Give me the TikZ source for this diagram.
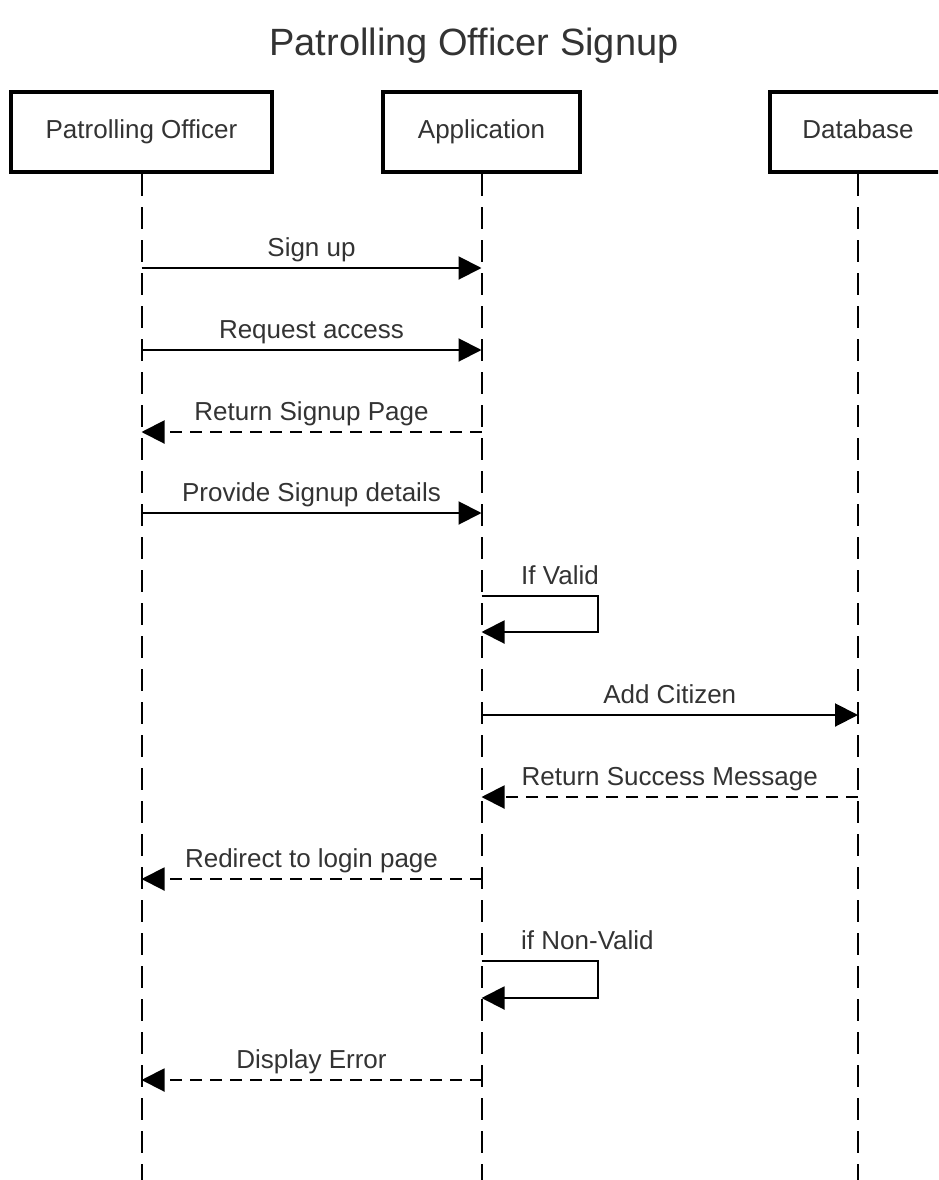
\documentclass[tikz,border=0pt]{standalone}
\usepackage{fontspec}
\setmainfont{Liberation Sans}
\usetikzlibrary{arrows.meta}
\definecolor{txt}{HTML}{333333}
\begin{document}
\begin{tikzpicture}[x=1pt,y=-1pt,
  actor/.style={draw=black,line width=4pt,minimum width=#1,minimum height=80pt,inner sep=0pt,
    font=\fontsize{26}{30}\selectfont,text=txt,text height=19pt,text depth=5pt},
  lifeline/.style={line width=2pt,dash pattern=on 22pt off 11pt},
  msg/.style={line width=2pt,-{Triangle[length=23pt,width=23pt]}},
  ret/.style={msg,dash pattern=on 12pt off 8pt},
  lbl/.style={font=\fontsize{26}{30}\selectfont,text=txt,anchor=base,inner sep=0pt,yshift=12pt},
  loopl/.style={font=\fontsize{26}{30}\selectfont,text=txt,anchor=base west,inner sep=0pt}
]
\useasboundingbox (0,0) rectangle (938,1180);
\clip (0,0) rectangle (938,1180);

\node[font=\fontsize{38}{44}\selectfont,text=txt] (title) at (474,46) {Patrolling Officer Signup};

\node[actor=261pt] (po) at (141.5,132) {Patrolling Officer};
\node[actor=197pt] (app) at (481.5,132) {Application};
\node[actor=176pt] (db) at (858,132) {Database};

\coordinate (poEnd) at (141.5,1185);
\coordinate (appEnd) at (481.5,1185);
\coordinate (dbEnd) at (858,1185);
\draw[lifeline] (po.south) -- (poEnd);
\draw[lifeline] (app.south) -- (appEnd);
\draw[lifeline] (db.south) -- (dbEnd);

% message anchor points
\coordinate (po1) at (141.5,268);  \coordinate (app1) at (481.5,268);
\coordinate (po2) at (141.5,350);  \coordinate (app2) at (481.5,350);
\coordinate (po3) at (141.5,432);  \coordinate (app3) at (481.5,432);
\coordinate (po4) at (141.5,513);  \coordinate (app4) at (481.5,513);
\coordinate (app5a) at (481.5,596); \coordinate (c5) at (598,614); \coordinate (app5b) at (481.5,632);
\coordinate (app6) at (481.5,715); \coordinate (db6) at (858,715);
\coordinate (app7) at (481.5,797); \coordinate (db7) at (858,797);
\coordinate (po8) at (141.5,879);  \coordinate (app8) at (481.5,879);
\coordinate (app9a) at (481.5,961); \coordinate (c9) at (598,979); \coordinate (app9b) at (481.5,998);
\coordinate (po10) at (141.5,1080); \coordinate (app10) at (481.5,1080);

\draw[msg] (po1) -- node[lbl] {Sign up} (app1);
\draw[msg] (po2) -- node[lbl] {Request access} (app2);
\draw[ret] (app3) -- node[lbl] {Return Signup Page} (po3);
\draw[msg] (po4) -- node[lbl] {Provide Signup details} (app4);
\draw[msg] (app5a) -| (c5) |- (app5b);
\node[loopl] (l5) at (521,584) {If Valid};
\draw[msg] (app6) -- node[lbl] {Add Citizen} (db6);
\draw[ret] (db7) -- node[lbl] {Return Success Message} (app7);
\draw[ret] (app8) -- node[lbl] {Redirect to login page} (po8);
\draw[msg] (app9a) -| (c9) |- (app9b);
\node[loopl] (l9) at (521,949) {if Non-Valid};
\draw[ret] (app10) -- node[lbl] {Display Error} (po10);
\end{tikzpicture}
\end{document}
